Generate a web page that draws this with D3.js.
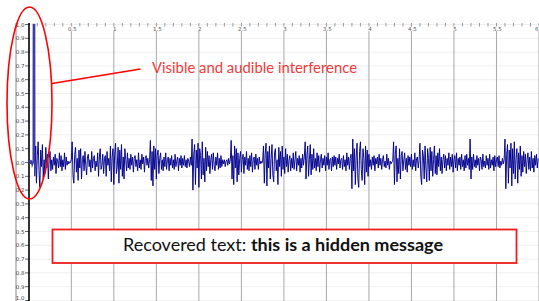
<!DOCTYPE html>
<html><head><meta charset="utf-8">
<script src="https://cdn.jsdelivr.net/npm/d3@7"></script>
<style>html,body{margin:0;padding:0;background:#fff;overflow:hidden}svg{display:block}</style>
</head><body>
<svg id="c" width="539" height="301"></svg>
<script>
// ---- data ----
const xMajorTicks = [0.5,1,1.5,2,2.5,3,3.5,4,4.5,5,5.5,6];
const xMajorLabels = ["0.5","1","1.5","2","2.5","3","3.5","4","4.5","5","5.5","6"];
const yTickValues = [1,0.9,0.8,0.7,0.6,0.5,0.4,0.3,0.2,0.1,0,-0.1,-0.2,-0.3,-0.4,-0.5,-0.6,-0.7,-0.8,-0.9,-1];
const yTickLabels = ["1.0","0.9","0.8","0.7","0.6","0.5","0.4","0.3","0.2","0.1","0.0","0.1","0.2","0.3","0.4","0.5","0.6","0.7","0.8","0.9","1.0"];
// initial click (spike) samples: time (s), amplitude
const spikeTimes  = [0.00, 0.01, 0.02, 0.03, 0.04, 0.052, 0.054, 0.068, 0.070, 0.08];
const spikeValues = [0.00, 0.02, -0.01, 0.015, -0.02, 0.00, 1.00, 1.00, -0.10, 0.12];
// waveform samples every 0.01 s starting at 0.08 s
const waveStart = 0.08, waveStep = 0.01;
const waveValues = [
 0.12,-0.15,
 0.05,0.15,-0.06,-0.18,0.09,-0.03,0.13,-0.12,0.02,-0.08,
 0.11,-0.04,0.06,-0.12,0.03,0.08,-0.06,0.02,-0.05,0.04,
 -0.02,0.06,-0.08,0.03,0.01,-0.04,0.07,-0.03,0.05,-0.06,
 0.02,-0.03,0.07,-0.05,0.04,-0.02,0.01,-0.01,0.005,0.0,
 0.02,0.15,-0.1,-0.15,0.06,0.11,-0.07,0.03,-0.13,0.09,
 -0.04,0.1,-0.12,0.02,0.05,-0.06,0.08,-0.02,-0.09,0.04,
 0.06,-0.03,0.02,-0.07,0.08,-0.04,0.03,0.05,-0.06,0.01,
 -0.03,0.07,-0.1,0.04,0.1,-0.05,-0.02,0.06,-0.08,0.03,
 0.05,-0.1,0.08,-0.02,0.03,-0.06,0.12,-0.14,0.04,0.1,
 -0.16,0.06,0.14,-0.08,-0.03,0.11,-0.15,0.09,-0.05,0.13,
 -0.1,0.04,-0.12,0.1,0.02,-0.06,0.07,-0.04,0.03,-0.05,
 0.06,-0.02,0.04,-0.07,0.03,0.05,-0.03,0.02,-0.06,0.07,
 -0.04,0.02,-0.05,0.06,-0.01,0.04,-0.07,0.03,0.05,-0.02,
 0.03,-0.04,0.02,0.16,-0.13,0.08,-0.17,0.12,-0.05,0.1,
 -0.12,0.05,0.09,-0.08,0.03,0.07,-0.05,0.02,-0.06,0.04,
 -0.03,0.07,-0.05,0.02,0.04,-0.06,0.03,-0.02,0.05,-0.04,
 0.02,-0.05,0.06,-0.03,0.01,0.04,-0.06,0.03,-0.02,0.05,
 -0.04,0.03,-0.02,0.05,-0.03,0.02,-0.04,0.03,0.01,-0.03,
 0.04,-0.02,0.17,-0.2,0.06,0.13,-0.16,0.09,-0.04,0.14,
 -0.18,0.1,0.05,-0.12,0.15,-0.09,0.03,-0.14,0.11,-0.06,
 0.08,-0.03,0.05,-0.08,0.02,0.06,-0.05,0.07,-0.02,-0.06,
 0.04,-0.02,0.07,-0.05,0.03,-0.04,0.05,-0.03,0.02,-0.01,
 0.02,-0.03,0.01,0.02,-0.02,0.03,-0.01,0.02,0.16,-0.12,
 0.05,-0.16,0.12,-0.04,0.1,-0.14,0.07,-0.09,0.03,0.08,
 -0.07,0.02,0.06,-0.08,0.04,-0.02,0.08,-0.05,0.03,-0.06,
 0.05,-0.03,0.07,-0.07,0.02,0.04,-0.05,0.06,-0.02,0.03,
 -0.05,0.04,-0.01,0.01,-0.005,0.01,0.12,-0.15,0.06,0.14,
 -0.17,0.08,-0.04,0.12,-0.12,0.03,0.13,-0.09,-0.14,0.07,
 0.1,-0.06,0.02,-0.16,0.11,-0.03,0.08,-0.1,0.12,-0.05,
 0.04,-0.08,0.1,-0.03,0.06,-0.07,0.02,0.05,-0.06,0.03,
 -0.04,0.07,-0.05,0.02,0.08,-0.06,0.03,-0.02,0.05,-0.07,
 0.03,-0.04,0.06,-0.02,0.04,0.15,-0.12,0.05,0.12,-0.1,
 0.02,0.13,-0.09,0.06,-0.05,0.1,-0.04,0.03,-0.06,0.07,
 -0.03,0.05,-0.07,0.02,0.06,-0.04,0.03,-0.02,0.05,-0.06,
 0.04,-0.02,0.07,-0.05,0.02,0.03,-0.06,0.04,-0.03,0.05,
 -0.02,0.04,-0.05,0.03,-0.01,0.06,-0.04,0.02,0.03,-0.05,
 0.05,-0.03,0.02,-0.06,0.07,-0.02,0.04,-0.05,0.03,0.06,
 -0.19,0.17,-0.06,0.1,-0.16,0.04,0.14,-0.12,-0.18,0.08,
 0.15,-0.05,-0.13,0.1,0.03,-0.16,0.12,-0.07,0.09,-0.1,
 0.06,-0.03,0.02,-0.05,0.04,-0.02,0.05,-0.06,0.03,-0.01,
 0.04,-0.04,0.06,-0.02,0.03,-0.05,0.02,0.05,-0.03,0.01,
 -0.04,0.06,-0.02,0.03,-0.05,0.01,-0.01,0.005,0.01,0.15,
 -0.16,0.06,0.12,-0.14,0.03,-0.08,0.1,-0.12,0.05,0.08,
 -0.06,0.02,0.07,-0.05,0.03,-0.07,0.05,-0.02,0.04,-0.03,
 0.06,-0.05,0.02,-0.03,0.07,-0.06,0.03,0.04,-0.04,0.02,
 0.14,-0.1,-0.16,0.09,0.05,-0.12,0.12,-0.04,-0.14,0.1,
 0.03,-0.13,0.11,-0.06,0.08,-0.1,0.02,0.12,-0.08,0.05,
 -0.09,0.07,-0.03,0.1,-0.06,0.04,-0.08,0.02,0.06,-0.04,
 0.05,-0.06,0.03,-0.02,0.07,-0.05,0.04,-0.03,0.06,-0.07,
 0.02,0.05,-0.04,0.07,-0.06,0.03,-0.02,0.04,-0.05,0.06,
 -0.03,0.02,-0.06,0.05,-0.04,0.06,-0.02,0.03,-0.05,0.17,
 -0.12,0.04,-0.05,0.06,-0.03,0.02,-0.04,0.05,-0.02,0.03,
 -0.06,0.04,0.02,-0.05,0.06,-0.03,0.01,-0.04,0.05,-0.02,
 0.03,-0.05,0.06,-0.04,0.02,-0.02,0.04,-0.06,0.05,-0.03,
 0.02,0.04,-0.03,0.05,-0.04,0.01,-0.02,0.03,-0.01,0.02,
 0.17,-0.19,0.06,0.13,-0.15,0.09,-0.04,0.14,-0.17,0.1,
 -0.08,0.15,-0.12,0.03,0.1,-0.15,0.07,-0.05,0.12,-0.1,
 0.05,-0.07,0.08,-0.03,0.06,-0.08,0.02,0.07,-0.05,0.04,
 -0.06,0.08,-0.04,0.03,-0.07,0.05,-0.02,0.06,-0.04,0.03
];
const annotationText = "Visible and audible interference";
const boxLabel = "Recovered text: ";
const boxMessage = "this is a hidden message";

// ---- scales ----
const svg = d3.select("#c");
const W = 539, H = 301;
const x = d3.scaleLinear().domain([0, 6]).range([28.8, 539]);
const y = d3.scaleLinear().domain([-1, 1]).range([300.5, 24.5]);

// horizontal faint grid
svg.append("g").selectAll("line").data(yTickValues).join("line")
  .attr("x1", x(0)).attr("x2", W)
  .attr("y1", d => y(d)).attr("y2", d => y(d))
  .attr("stroke", "#efefef").attr("stroke-width", 1);

// vertical major gridlines
svg.append("g").selectAll("line").data(xMajorTicks).join("line")
  .attr("x1", d => x(d)).attr("x2", d => x(d))
  .attr("y1", 31).attr("y2", H)
  .attr("stroke", "#a8a8a8").attr("stroke-width", 1);

// top minor ticks
const minor = d3.range(1, 61).map(i => i / 10);
svg.append("g").selectAll("line").data(minor).join("line")
  .attr("x1", d => x(d)).attr("x2", d => x(d))
  .attr("y1", 23).attr("y2", 26.5)
  .attr("stroke", "#999").attr("stroke-width", 1);

// top labels
svg.append("g").selectAll("text").data(xMajorTicks).join("text")
  .attr("x", d => d >= 6 ? x(d) - 0.5 : x(d) + 1).attr("y", 31)
  .attr("text-anchor", d => d >= 6 ? "end" : "middle")
  .attr("font-family", "DejaVu Sans").attr("font-size", 5.5)
  .attr("fill", "#555")
  .text((d, i) => xMajorLabels[i]);

// left ruler line
svg.append("line").attr("x1", 16).attr("x2", 16).attr("y1", 23).attr("y2", H)
  .attr("stroke", "#888").attr("stroke-width", 1);

// y tick marks & labels
svg.append("g").selectAll("line").data(yTickValues).join("line")
  .attr("x1", 25).attr("x2", 29)
  .attr("y1", d => y(d)).attr("y2", d => y(d))
  .attr("stroke", "#444").attr("stroke-width", 0.8);
svg.append("g").selectAll("text").data(yTickValues).join("text")
  .attr("x", 24.5).attr("y", d => Math.min(y(d) + 2, 300))
  .attr("text-anchor", "end")
  .attr("font-family", "DejaVu Sans").attr("font-size", 5.5)
  .attr("fill", "#444")
  .text((d, i) => yTickLabels[i]);

// y axis line
svg.append("line").attr("x1", 29).attr("x2", 29).attr("y1", 23).attr("y2", H)
  .attr("stroke", "#000").attr("stroke-width", 1.6);

// waveform
const line = d3.line().x(d => x(d[0])).y(d => y(d[1]));
const spikePts = spikeTimes.map((t, i) => [t, spikeValues[i]]);
svg.append("path").datum(spikePts).attr("d", line)
  .attr("fill", "none").attr("stroke", "#3c3caa").attr("stroke-width", 1.5);
const wavePts = [[spikeTimes[spikeTimes.length-1], spikeValues[spikeValues.length-1]]]
  .concat(waveValues.map((v, i) => [waveStart + waveStep * i, v]));
svg.append("path").datum(wavePts).attr("d", line)
  .attr("fill", "none").attr("stroke", "#00008c").attr("stroke-width", 0.95)
  .attr("stroke-linejoin", "round");

// annotation ellipse and pointer
svg.append("ellipse").attr("cx", 29.5).attr("cy", 103).attr("rx", 22.5).attr("ry", 96)
  .attr("fill", "none").attr("stroke", "#ff0000").attr("stroke-width", 1.6);
svg.append("line").attr("x1", 52).attr("y1", 83.5).attr("x2", 140.5).attr("y2", 69)
  .attr("stroke", "#ff0000").attr("stroke-width", 1.6);
const at = svg.append("text").attr("x", 152).attr("y", 72.5)
  .attr("font-family", "Lato").attr("font-size", 14.5)
  .attr("fill", "#f23a3a").text(annotationText);
at.attr("textLength", 205).attr("lengthAdjust", "spacingAndGlyphs");

// recovered text box
svg.append("rect").attr("x", 52.5).attr("y", 229.5).attr("width", 464).attr("height", 33.5)
  .attr("fill", "#fff").attr("stroke", "#ee1c1c").attr("stroke-width", 1.8);
const bt = svg.append("text").attr("x", 123).attr("y", 250.5)
  .attr("font-family", "Lato").attr("font-size", 16.5).attr("fill", "#111");
bt.append("tspan").text(boxLabel);
bt.append("tspan").attr("font-weight", "bold").text(boxMessage);
bt.attr("textLength", 320).attr("lengthAdjust", "spacingAndGlyphs");
</script>
</body></html>
